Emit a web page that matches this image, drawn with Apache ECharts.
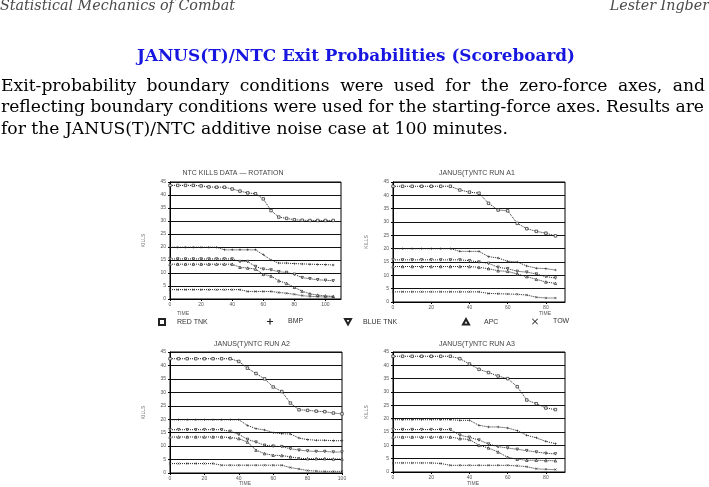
<!DOCTYPE html>
<html><head><meta charset="utf-8">
<script src="https://cdn.jsdelivr.net/npm/echarts@6/dist/echarts.min.js"></script>
<style>html,body{margin:0;padding:0;background:#fff}#c{width:709px;height:487px}</style>
</head><body><div id="c"></div>
<script>
// ---------------- data ----------------
const seriesNames = ['RED TNK', 'BMP', 'BLUE TNK', 'APC', 'TOW'];
const chartTitles = ['NTC KILLS DATA \u2014 ROTATION', 'JANUS(T)/NTC RUN A1', 'JANUS(T)/NTC RUN A2', 'JANUS(T)/NTC RUN A3'];
const yTicks = [0, 45, 5]; // min, max, step
const xAxisName = 'TIME';
const yAxisName = 'KILLS';

const timesNTC = [0,5,10,15,20,25,30,35,40,45,50,55,60,65,70,75,80,85,90,95,100,105];
const ntcRedTnk  = [43.7,43.7,43.7,43.7,43.5,43.1,43,43,42.3,41.5,40.8,40.5,38.5,34,31.5,31,30.5,30.3,30.2,30.2,30.2,30.2];
const ntcBmp     = [19.9,19.9,19.9,19.9,19.9,19.9,19.9,18.9,18.9,18.9,18.9,18.9,17,15,13.8,13.8,13.6,13.5,13.4,13.3,13.2,13.1];
const ntcBlueTnk = [15.4,15.4,15.4,15.4,15.4,15.4,15.4,15.4,15.4,14.4,14.4,12.5,11.5,11.2,10.5,10.2,9.5,8.2,7.8,7.4,7.2,7.0];
const ntcApc     = [13.4,13.4,13.4,13.4,13.4,13.4,13.4,13.4,13.4,12.2,11.9,11.5,9.5,8.8,7,6,4.5,3,2,1.5,1.2,1.0];
const ntcTow     = [3.6,3.6,3.6,3.6,3.6,3.6,3.6,3.6,3.6,3.6,2.9,2.9,2.9,2.9,2.5,2.2,1.8,1.3,1.0,0.9,0.8,0.8];

const timesA1 = [0,5,10,15,20,25,30,35,40,45,50,55,60,65,70,75,80,85];
const a1RedTnk  = [43.4,43.4,43.4,43.4,43.4,43.4,43.4,42,41.2,40.8,37,34.5,34.2,29.5,27.5,26.5,25.8,24.8];
const a1Bmp     = [20,20,20,20,20,20,20,19,19,19,17,16.5,15.3,15,13.5,12.7,12.5,12];
const a1BlueTnk = [15.8,15.8,15.8,15.8,15.8,15.8,15.8,15.8,15.5,15,14.5,13,12.5,11.5,11.2,10.5,9.5,9];
const a1Apc     = [13.3,13.3,13.3,13.3,13.3,13.3,13.3,13.3,13.3,13,12.5,11.7,11.5,10.5,9.5,8.5,7.5,7];
const a1Tow     = [3.8,3.8,3.8,3.8,3.8,3.8,3.8,3.8,3.8,3.8,3.2,3.1,3.0,2.9,2.6,1.8,1.5,1.5];

const timesA2 = [0,5,10,15,20,25,30,35,40,45,50,55,60,65,70,75,80,85,90,95,100];
const a2RedTnk  = [42.5,42.5,42.5,42.5,42.5,42.5,42.5,42.5,41.5,39,37,35,32,30.3,26,23.5,23.3,23,22.8,22.3,22];
const a2Bmp     = [19.8,19.8,19.8,19.8,19.8,19.8,19.8,19.8,19.8,17.7,16.5,16,15,14.6,14.5,13,12.4,12.2,12.2,12,12];
const a2BlueTnk = [16.1,16.1,16.1,16.1,16.1,16.1,16.1,15.5,14.4,12.5,11.5,10.3,10,9.8,9,8.5,8.2,8,8,7.8,7.8];
const a2Apc     = [13.4,13.4,13.4,13.4,13.4,13.4,13.4,13.2,12.8,11.5,8.5,7.2,6.6,6.5,6,5.5,5.3,5.3,5.3,5.2,5.2];
const a2Tow     = [3.5,3.5,3.5,3.5,3.5,3.5,2.9,2.9,2.9,2.9,2.9,2.9,2.9,2.9,2.0,1.5,0.9,0.7,0.6,0.6,0.6];

const timesA3 = [0,5,10,15,20,25,30,35,40,45,50,55,60,65,70,75,80,85];
const a3RedTnk  = [43.4,43.4,43.4,43.4,43.4,43.4,43.4,42.5,40.5,38.5,37.3,36,35,32,27,25.6,24,23.4];
const a3Bmp     = [19.6,19.6,19.6,19.6,19.6,19.6,19.6,19.4,19.4,17.5,16.9,16.9,16.5,15.5,13.8,12.8,11.5,10.6];
const a3BlueTnk = [15.9,15.9,15.9,15.9,15.9,15.9,15.9,13.8,13,12,10.5,9.5,9,8.5,8,7.5,7,6.8];
const a3Apc     = [13.1,13.1,13.1,13.1,13.1,13.1,13.1,12.5,12.2,10,9,7.5,5.5,4.8,4.4,4.4,4.3,4.2];
const a3Tow     = [3.4,3.4,3.4,3.4,3.4,3.2,2.5,2.5,2.5,2.5,2.5,2.5,2.5,2.3,2.0,1.2,1.0,0.9];

const headerLeft = 'Statistical Mechanics of Combat';
const headerRight = 'Lester Ingber';
const slideTitle = 'JANUS(T)/NTC Exit Probabilities (Scoreboard)';
const paraLines = [
  'Exit-probability boundary conditions were used for the zero-force axes, and',
  'reflecting boundary conditions were used for the starting-force axes.  Results are',
  'for the JANUS(T)/NTC additive noise case at 100 minutes.'
];

// ---------------- layout ----------------
const charts = [
  {times: timesNTC, vals: [ntcRedTnk, ntcBmp, ntcBlueTnk, ntcApc, ntcTow], xMax: 110, grid: {left:170, top:182, width:171, height:117}, title: [228, 165], xName: [183, 314]},
  {times: timesA1, vals: [a1RedTnk, a1Bmp, a1BlueTnk, a1Apc, a1Tow], xMax: 90, grid: {left:393, top:182, width:172, height:120}, title: [472, 165], xName: [545, 314]},
  {times: timesA2, vals: [a2RedTnk, a2Bmp, a2BlueTnk, a2Apc, a2Tow], xMax: 100, grid: {left:170, top:352, width:172, height:121}, title: [247, 336], xName: [245, 484]},
  {times: timesA3, vals: [a3RedTnk, a3Bmp, a3BlueTnk, a3Apc, a3Tow], xMax: 90, grid: {left:393, top:352, width:172, height:120}, title: [472, 336], xName: [473, 484]}
];

const ink = '#222';
const symbols = ['rect', 'path://M4,0H6V4H10V6H6V10H4V6H0V4H4Z', 'path://M0,0L10,0L5,9Z', 'path://M5,0L10,9L0,9Z', 'path://M1,0L5,4L9,0L10,1L6,5L10,9L9,10L5,6L1,10L0,9L4,5L0,1Z'];
const hollow = [true, false, true, true, false];
const legendLeft = [158, 267, 344, 462, 532];
const legendPad = [7, 10, 7, 10, 10];

// text measurement
const mc = document.createElement('canvas').getContext('2d');
function tw(text, font) { mc.font = font; return mc.measureText(text).width; }
function fit(text, fam, weight, target, lo, hi) {
  const w = tw(text, weight + ' 20px ' + fam);
  let s = 20 * target / w;
  return Math.max(lo, Math.min(hi, s));
}
const serif = '"DejaVu Serif"';
const paraSize = fit(paraLines[2], serif, 'normal', 507, 13, 19);
const titleSize = fit(slideTitle, serif, 'bold', 438, 14, 22);
const headSize = fit(headerLeft, serif, 'italic', 235, 11, 17);

const graphics = [];
function addText(text, x, y, font, fill, align) {
  graphics.push({type: 'text', x: x, y: y, silent: true,
    style: {text: text, font: font, fill: fill, align: align, textAlign: align, verticalAlign: 'middle', textVerticalAlign: 'middle'}});
}
const headFont = 'italic ' + headSize.toFixed(2) + 'px ' + serif;
addText(headerLeft, 0, 11.7 - 0.346 * headSize, headFont, '#4a4a4a', 'left');
addText(headerRight, 709, 11.7 - 0.346 * headSize, headFont, '#4a4a4a', 'right');
addText(slideTitle, 356, 62.3 - 0.346 * titleSize, 'bold ' + titleSize.toFixed(2) + 'px ' + serif, '#1616e0', 'center');

const paraFont = paraSize.toFixed(2) + 'px ' + serif;
const baselines = [92, 113.5, 135];
function justifyLine(line, y, x0, x1) {
  const words = line.split(/\s+/);
  const widths = words.map(w => tw(w, paraFont));
  const total = widths.reduce((a, b) => a + b, 0);
  const gap = (x1 - x0 - total) / (words.length - 1);
  let x = x0;
  words.forEach((w, i) => { addText(w, x, y, paraFont, '#000', 'left'); x += widths[i] + gap; });
}
justifyLine(paraLines[0], baselines[0] - 0.346 * paraSize, 1, 705);
justifyLine(paraLines[1], baselines[1] - 0.346 * paraSize, 1, 704);
addText(paraLines[2], 1, baselines[2] - 0.346 * paraSize, paraFont, '#000', 'left');

charts.forEach(c => addText(xAxisName, c.xName[0], c.xName[1], '5px "Liberation Sans"', '#555', 'center'));

// ---------------- option ----------------
const smallFont = '"Liberation Sans", sans-serif';
const option = {
  animation: false,
  backgroundColor: '#fff',
  title: charts.map((c, i) => ({text: chartTitles[i], left: c.title[0], top: c.title[1], textAlign: 'center',
    textStyle: {fontSize: 7, fontWeight: 'normal', color: '#444', fontFamily: smallFont}})),
  grid: charts.map(c => Object.assign({show: true, borderColor: '#000', borderWidth: 1, backgroundColor: 'transparent'}, c.grid)),
  xAxis: charts.map((c, i) => ({type: 'value', gridIndex: i, min: 0, max: c.xMax, interval: 20,
    axisLine: {onZero: false, lineStyle: {color: '#000', width: 1}},
    axisTick: {show: true, length: 2, inside: false, lineStyle: {color: '#000'}},
    axisLabel: {fontSize: 5, color: '#555', margin: 3, fontFamily: smallFont, showMaxLabel: c.xMax % 20 === 0},
    splitLine: {show: false}})),
  yAxis: charts.map((c, i) => ({type: 'value', gridIndex: i, min: yTicks[0], max: yTicks[1], interval: yTicks[2],
    name: yAxisName, nameLocation: 'middle', nameGap: 24, nameRotate: 90,
    nameTextStyle: {fontSize: 5, color: '#666', fontFamily: smallFont},
    axisLine: {show: true, lineStyle: {color: '#000', width: 1}},
    axisTick: {show: true, length: 2, lineStyle: {color: '#000'}},
    axisLabel: {fontSize: 5, color: '#555', margin: 4, fontFamily: smallFont},
    splitLine: {show: true, lineStyle: {color: '#111', width: 1}}})),
  legend: seriesNames.map((n, i) => ({data: [n], left: legendLeft[i], top: 318, icon: symbols[i],
    itemWidth: 6, itemHeight: 6, selectedMode: false, padding: 0,
    textStyle: {fontSize: 7, color: '#333', fontFamily: smallFont, padding: [0, 0, 0, legendPad[i]]}})),
  graphic: graphics,
  series: []
};
charts.forEach((c, ci) => {
  c.vals.forEach((vals, si) => {
    option.series.push({
      type: 'line', name: seriesNames[si], xAxisIndex: ci, yAxisIndex: ci,
      data: c.times.map((t, k) => [t, vals[k]]),
      symbol: symbols[si], symbolSize: 2.5, showSymbol: true,
      itemStyle: hollow[si] ? {color: '#fff', borderColor: ink, borderWidth: 0.7} : {color: ink},
      lineStyle: {color: ink, width: 1, type: 'dotted'},
      emphasis: {disabled: true}, silent: true
    });
  });
});
const chart = echarts.init(document.getElementById('c'), null, {renderer: 'canvas'});
chart.setOption(option);
</script>
</body></html>
